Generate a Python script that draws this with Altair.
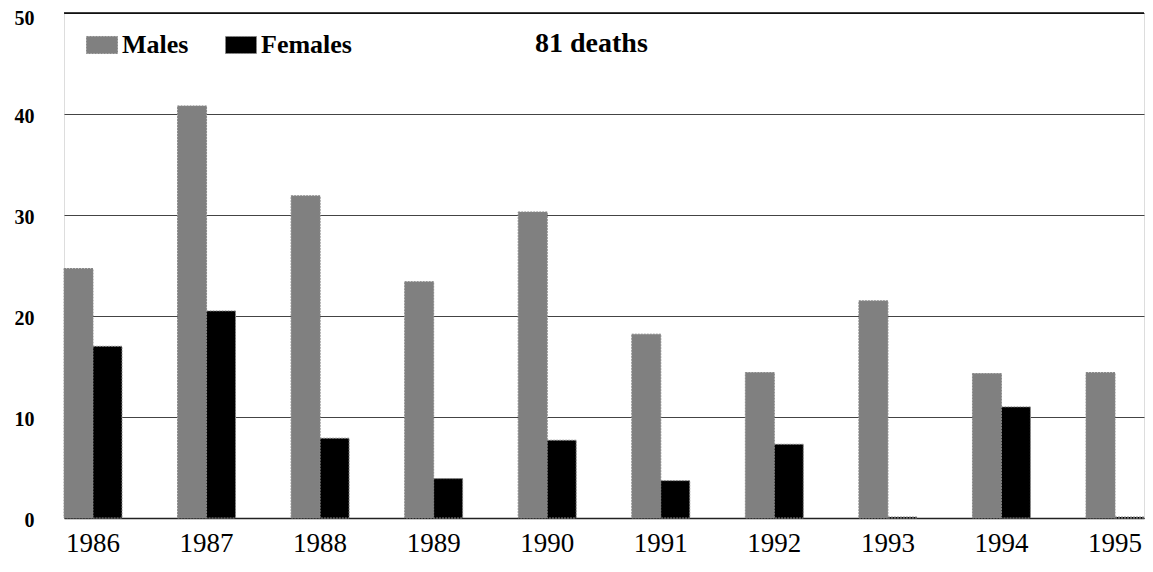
import altair as alt
import pandas as pd

years = ["1986", "1987", "1988", "1989", "1990", "1991", "1992", "1993", "1994", "1995"]
males = [24.7, 40.8, 31.9, 23.4, 30.3, 18.2, 14.4, 21.5, 14.3, 14.4]
females = [17.0, 20.5, 7.9, 3.9, 7.7, 3.7, 7.3, 0.1, 11.0, 0.1]
series = ["Males", "Females"]
y_ticks = [0, 10, 20, 30, 40, 50]
annotation = ["81 deaths"]

rows = []
for i, yr in enumerate(years):
    rows.append({"year": yr, "sex": "Males", "value": males[i]})
    rows.append({"year": yr, "sex": "Females", "value": females[i]})
df = pd.DataFrame(rows)

FONT = "Liberation Serif"

bars = alt.Chart(df).mark_bar(stroke="#888888", strokeWidth=1, strokeDash=[2, 1]).encode(
    x=alt.X("year:N", sort=years, title=None,
            scale=alt.Scale(paddingInner=0.4894, paddingOuter=0),
            axis=alt.Axis(labelAngle=0, ticks=False, labelFont=FONT, labelFontSize=27,
                          labelColor="black", labelPadding=12, domainColor="#222222",
                          domainWidth=1.5)),
    xOffset=alt.XOffset("sex:N", sort=series, scale=alt.Scale(paddingInner=0, paddingOuter=0)),
    y=alt.Y("value:Q", title=None,
            scale=alt.Scale(domain=[0, 50], nice=False),
            axis=alt.Axis(values=y_ticks, ticks=False, domain=False, labelFont=FONT,
                          labelFontSize=20, labelFontWeight="bold", labelColor="black",
                          labelPadding=30,
                          labelOffset={"condition": {"test": "datum.value == 50", "value": 5},
                                       "value": 2},
                          gridColor="#444444", gridWidth=1)),
    color=alt.Color("sex:N", sort=series,
                    scale=alt.Scale(domain=series, range=["#808080", "#000000"]),
                    legend=alt.Legend(title=None, orient="none", legendX=22, legendY=16,
                                      direction="horizontal", labelFont=FONT,
                                      labelFontSize=26, labelFontWeight="bold",
                                      labelColor="black",
                                      symbolType="M-1,-0.55H1V0.55H-1Z", symbolSize=961,
                                      symbolStrokeColor="#888888", symbolStrokeWidth=1,
                                      symbolDash=[2, 1], symbolOpacity=1,
                                      labelOffset=4, columnPadding=34, padding=0)),
)

top_rule = alt.Chart(pd.DataFrame({"v": [50]})).mark_rule(color="black", strokeWidth=1.5).encode(
    y=alt.Y("v:Q", scale=alt.Scale(domain=[0, 50], nice=False))
)

note = alt.Chart(pd.DataFrame({"t": annotation})).mark_text(
    font=FONT, fontSize=28, fontWeight="bold", align="left", baseline="middle", color="black"
).encode(
    text="t:N", x=alt.value(471), y=alt.value(31)
)

chart = alt.layer(bars, top_rule, note).properties(
    width=1080, height=505,
    autosize=alt.AutoSizeParams(type="none"),
    padding={"left": 56, "top": 5, "right": 1, "bottom": 46},
).configure_view(
    stroke="#999999", strokeDash=[2, 2], strokeWidth=1
).configure(background="white")

chart.save("out.html", embed_options={"renderer": "svg", "actions": False})
